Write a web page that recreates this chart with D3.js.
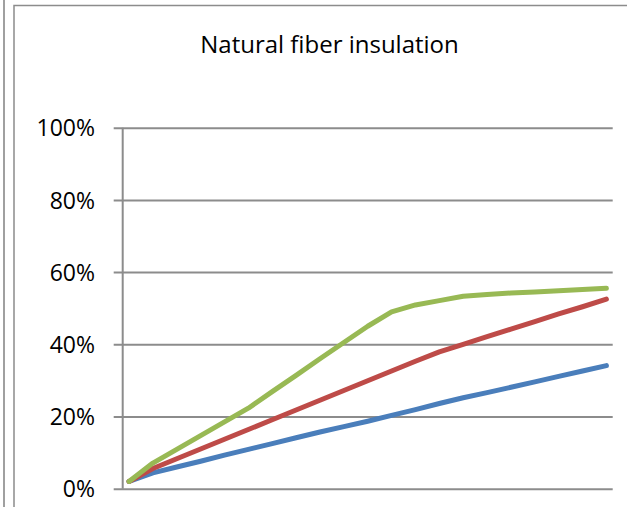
<!DOCTYPE html>
<html>
<head>
<meta charset="utf-8">
<script src="https://cdn.jsdelivr.net/npm/d3@7"></script>
<style>
  html, body { margin: 0; padding: 0; background: #fff; }
  svg { display: block; }
</style>
</head>
<body>
<svg id="chart" width="627" height="507"></svg>
<script>
const title = "Natural fiber insulation";
const categories = ["1","2","3","4","5","6","7","8","9","10","11","12","13","14","15","16","17","18","19","20","21"];
const blueValues  = [0.020,0.044,0.060,0.076,0.093,0.109,0.125,0.141,0.157,0.172,0.187,0.203,0.219,0.236,0.252,0.266,0.281,0.296,0.311,0.326,0.341];
const redValues   = [0.020,0.056,0.083,0.110,0.137,0.164,0.191,0.218,0.245,0.272,0.299,0.326,0.353,0.379,0.400,0.421,0.442,0.463,0.484,0.504,0.525];
const greenValues = [0.020,0.071,0.109,0.147,0.185,0.223,0.269,0.314,0.360,0.405,0.450,0.490,0.509,0.521,0.533,0.538,0.542,0.545,0.548,0.552,0.555];
const yTicks = [0, 0.2, 0.4, 0.6, 0.8, 1.0];
const series = [
  { name: "blue",  values: blueValues,  color: "#4a7ebb" },
  { name: "red",   values: redValues,   color: "#be4b48" },
  { name: "green", values: greenValues, color: "#98b954" }
];

const svg = d3.select("#chart");
const plot = { left: 122.7, right: 612.7, top: 127.7, bottom: 488.7 };
const font = "'Open Sans', 'Noto Sans', sans-serif";

// frame lines
svg.append("line").attr("x1", 4).attr("x2", 4).attr("y1", 0).attr("y2", 507)
  .attr("stroke", "#a0a0a0").attr("stroke-width", 2);
svg.append("path").attr("d", `M14,507 V5.5 H627`)
  .attr("fill", "none").attr("stroke", "#8c8c8c").attr("stroke-width", 1.5);

const x = d3.scalePoint().domain(categories).range([plot.left, plot.right]).padding(0.264);
const y = d3.scaleLinear().domain([0, 1]).range([plot.bottom, plot.top]);

// gridlines + ticks
const yAxis = d3.axisLeft(y).tickValues(yTicks).tickFormat(d3.format(".0%"))
  .tickSize(-(plot.right - plot.left)).tickSizeOuter(0).tickPadding(0);
const ga = svg.append("g").attr("transform", `translate(${plot.left},0)`).call(yAxis);
ga.select(".domain").remove();
ga.selectAll(".tick line").attr("x1", -9).attr("stroke", "#8c8c8c").attr("stroke-width", 2);
ga.selectAll(".tick text")
  .attr("x", -27.7).attr("dy", "0.36em")
  .attr("font-family", font).attr("font-size", 23).attr("fill", "#000");

// y axis line
svg.append("line").attr("x1", plot.left).attr("x2", plot.left)
  .attr("y1", y(1)).attr("y2", y(0)).attr("stroke", "#8c8c8c").attr("stroke-width", 2);

// title
svg.append("text").attr("x", 329.5).attr("y", 53.3).attr("text-anchor", "middle")
  .attr("font-family", font).attr("font-size", 24).attr("fill", "#000")
  .text(title);

const line = d3.line().x((d, i) => x(categories[i])).y(d => y(d));
svg.append("g").selectAll("path").data(series).join("path")
  .attr("d", d => line(d.values))
  .attr("fill", "none").attr("stroke", d => d.color).attr("stroke-width", 5)
  .attr("stroke-linecap", "round").attr("stroke-linejoin", "round");
</script>
</body>
</html>
